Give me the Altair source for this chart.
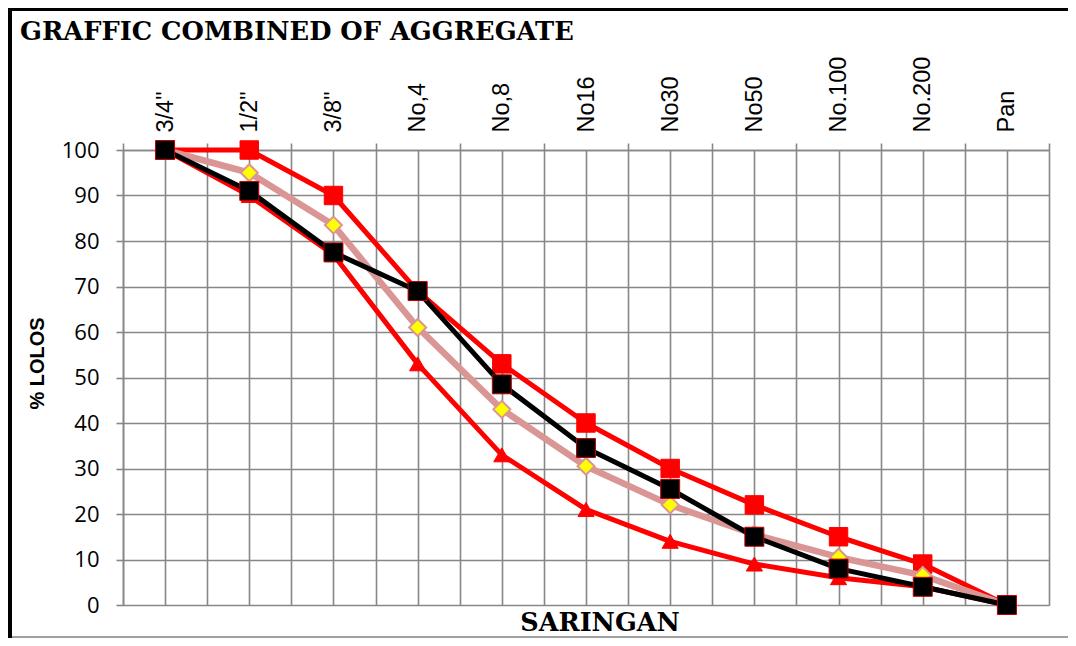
import json
import altair as alt
import pandas as pd

categories = ['3/4"', '1/2"', '3/8"', 'No,4', 'No,8', 'No16', 'No30', 'No50', 'No.100', 'No.200', 'Pan']
upper_limit = [100, 100, 90, 69, 53, 40, 30, 22, 15, 9, 0]
lower_limit = [100, 90, 77, 53, 33, 21, 14, 9, 6, 4, 0]
combined = [100, 95, 83.5, 61, 43, 30.5, 22, 15.5, 10.5, 6.5, 0]
gradation = [100, 91, 77.5, 69, 48.5, 34.5, 25.5, 15, 8, 4, 0]

chart_title = 'GRAFFIC COMBINED OF AGGREGATE'
x_title = 'SARINGAN'
y_title = '% LOLOS'

idx = list(range(len(categories)))
GRID = '#878787'

def frame(values):
    return pd.DataFrame({'idx': idx, 'cat': categories, 'value': values})

xscale = alt.Scale(domain=[-0.5, 10.5], nice=False, zero=False)
yscale = alt.Scale(domain=[0, 100], nice=False, zero=True)

label_js = json.dumps(categories)
top_axis = alt.Axis(
    orient='top', values=[-0.5 + 0.5 * i for i in range(23)],
    labelExpr=f"datum.value % 1 === 0 ? {label_js}[datum.value] : ''",
    labelAngle=-90, labelFont='Liberation Sans', labelFontSize=23.5, labelColor='black',
    labelPadding=11, labelOverlap=False, labelFlush=False,
    grid=True, gridColor=GRID, gridWidth=1.6, gridOpacity=1,
    tickSize=7, tickColor=GRID, tickWidth=1.6,
    tickOpacity={"condition": {"test": "datum.value % 1 !== 0", "value": 1}, "value": 0},
    domain=True, domainColor=GRID, domainWidth=1.6, title=None)

y_axis = alt.Axis(
    orient='left', values=list(range(0, 101, 10)), grid=True, gridColor=GRID, gridWidth=1.6,
    gridOpacity=1, tickSize=7, tickColor=GRID, tickWidth=1.6, domainColor=GRID, domainWidth=1.6,
    labelFont='Open Sans', labelFontSize=22, labelColor='black', labelPadding=17,
    title=y_title, titleFont='Liberation Sans', titleFontSize=20, titleFontWeight='bold',
    titleColor='black', titlePadding=14, titleY=213)


def series(values, color, width, shape, size, fill, stroke, sw=1):
    return alt.Chart(frame(values)).mark_line(
        color=color, strokeWidth=width, strokeJoin='round',
        point=alt.OverlayMarkDef(shape=shape, size=size, filled=True, fill=fill,
                                 stroke=stroke, strokeWidth=sw, opacity=1)
    ).encode(
        x=alt.X('idx:Q', scale=xscale, axis=top_axis),
        y=alt.Y('value:Q', scale=yscale, axis=y_axis),
        order='idx:Q')

one = pd.DataFrame({'a': [0]})
left_border = alt.Chart(one).mark_rule(color='black', strokeWidth=4).encode(
    x=alt.value(-113), y=alt.value(-142), y2=alt.value(488))
top_border = alt.Chart(one).mark_rule(color='black', strokeWidth=3).encode(
    x=alt.value(-115), x2=alt.value(945), y=alt.value(-140.5))
bottom_border = alt.Chart(one).mark_rule(color='#808080', strokeWidth=1.5).encode(
    x=alt.value(-111), x2=alt.value(945), y=alt.value(487))

title_text = alt.Chart(pd.DataFrame({'t': [chart_title]})).mark_text(
    align='left', baseline='alphabetic', font='DejaVu Serif', fontSize=25.7,
    fontWeight='bold', color='black'
).encode(text='t:N', x=alt.value(-103), y=alt.value(-110))

xtitle_text = alt.Chart(pd.DataFrame({'t': [x_title]})).mark_text(
    align='center', baseline='alphabetic', font='DejaVu Serif', fontSize=25.5,
    fontWeight='bold', color='black'
).encode(text='t:N', x=alt.value(477), y=alt.value(481))

chart = alt.layer(
    left_border, top_border, bottom_border,
    series(lower_limit, '#FF0000', 5, 'triangle-up', 260, '#FF0000', '#FF0000'),
    series(upper_limit, '#FF0000', 5, 'square', 340, '#FF0000', '#FF0000'),
    series(combined, '#D99694', 6.5, 'diamond', 290, '#FFFF00', '#D99694', 2),
    series(gradation, '#000000', 5, 'square', 360, '#000000', '#C00000'),
    title_text, xtitle_text,
).properties(
    width=926, height=455,
    autosize=alt.AutoSizeParams(type='none'),
    padding={'left': 115, 'top': 142, 'right': 19, 'bottom': 33},
).configure_view(stroke=None)

chart.save("out.html", embed_options={"renderer": "svg", "actions": False})
